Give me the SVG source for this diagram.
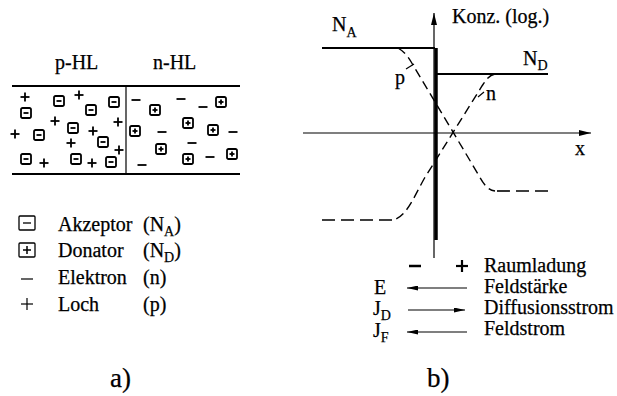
<svg xmlns="http://www.w3.org/2000/svg" xmlns:xlink="http://www.w3.org/1999/xlink" width="617" height="396" viewBox="0 0 617 396">
<style>
text{font-family:"Liberation Serif","Times New Roman",serif;font-size:20px;fill:#000;stroke:#000;stroke-width:0.25}
.sub{font-size:14px}
.big{font-size:27px}
.ln{stroke:#000;fill:none}
.thin{stroke:#000;stroke-width:1.2;fill:none}
.bold{stroke:#000;stroke-width:2;fill:none}
.dash{stroke:#000;stroke-width:1.4;fill:none;stroke-dasharray:9 5}
.dashf{stroke:#000;stroke-width:1.6;fill:none;stroke-dasharray:13 6}
.sym{stroke:#000;stroke-width:1.8;fill:none}
</style>
<defs>
<g id="acc"><rect x="-5" y="-5" width="10" height="10" rx="1.5" class="sym"/><line x1="-2.5" y1="0" x2="2.5" y2="0" class="sym"/></g>
<g id="don"><rect x="-5" y="-5" width="10" height="10" rx="1.5" class="sym"/><line x1="-2.5" y1="0" x2="2.5" y2="0" class="sym"/><line x1="0" y1="-2.5" x2="0" y2="2.5" class="sym"/></g>
<g id="hole"><line x1="-4.5" y1="0" x2="4.5" y2="0" class="sym"/><line x1="0" y1="-4.5" x2="0" y2="4.5" class="sym"/></g>
<g id="elec"><line x1="-4.5" y1="0" x2="4.5" y2="0" class="sym"/></g>
<marker id="ah" viewBox="0 0 12 6" refX="12" refY="3" markerWidth="12" markerHeight="6" markerUnits="userSpaceOnUse" orient="auto"><path d="M0,0 L12,3 L0,6 z" fill="#000"/></marker>
<marker id="ah2" viewBox="0 0 11 5" refX="11" refY="2.5" markerWidth="11" markerHeight="5" markerUnits="userSpaceOnUse" orient="auto"><path d="M0,0 L11,2.5 L0,5 z" fill="#000"/></marker>
</defs>

<!-- a) semiconductor -->
<g id="crystal">
<text x="55" y="69">p-HL</text>
<text x="153" y="69">n-HL</text>
<line x1="12" y1="86" x2="240" y2="86" class="bold"/>
<line x1="12" y1="174" x2="240" y2="174" class="bold"/>
<line x1="126" y1="86" x2="126" y2="174" class="thin"/>
</g>
<g id="acceptors">
<use href="#acc" x="59" y="101"/><use href="#acc" x="91" y="110"/><use href="#acc" x="114" y="102"/>
<use href="#acc" x="26" y="113"/><use href="#acc" x="73" y="128"/><use href="#acc" x="39" y="135"/>
<use href="#acc" x="103" y="142"/><use href="#acc" x="26" y="159"/><use href="#acc" x="76" y="159"/>
<use href="#acc" x="111" y="162"/>
</g>
<g id="holes">
<use href="#hole" x="25" y="97"/><use href="#hole" x="79" y="95"/><use href="#hole" x="55" y="121"/>
<use href="#hole" x="118" y="122"/><use href="#hole" x="15" y="134"/><use href="#hole" x="93" y="131"/>
<use href="#hole" x="71" y="143"/><use href="#hole" x="119" y="150"/><use href="#hole" x="44" y="163"/>
<use href="#hole" x="92" y="163"/>
</g>
<g id="donors">
<use href="#don" x="155" y="110"/><use href="#don" x="221" y="102"/><use href="#don" x="135" y="131"/>
<use href="#don" x="188" y="123"/><use href="#don" x="213" y="130"/><use href="#don" x="161" y="149"/>
<use href="#don" x="188" y="159"/><use href="#don" x="232" y="154"/>
</g>
<g id="electrons">
<use href="#elec" x="136" y="100"/><use href="#elec" x="181" y="99"/><use href="#elec" x="203" y="107"/>
<use href="#elec" x="162" y="132"/><use href="#elec" x="233" y="132"/><use href="#elec" x="192" y="143"/>
<use href="#elec" x="142" y="165"/><use href="#elec" x="210" y="157"/>
</g>

<!-- legend -->
<g id="legend">
<rect x="19" y="216" width="16" height="14" rx="1" class="ln" stroke-width="1.3"/>
<line x1="23" y1="223" x2="31" y2="223" class="ln" stroke-width="1.3"/>
<rect x="19" y="243" width="16" height="14" rx="1" class="ln" stroke-width="1.3"/>
<line x1="23" y1="250" x2="31" y2="250" class="ln" stroke-width="1.5"/>
<line x1="27" y1="246" x2="27" y2="254" class="ln" stroke-width="1.5"/>
<line x1="21" y1="279" x2="33" y2="279" class="ln" stroke-width="1.2"/>
<line x1="21" y1="304" x2="33" y2="304" class="ln" stroke-width="1.2"/>
<line x1="27" y1="298" x2="27" y2="310" class="ln" stroke-width="1.2"/>
<text x="58" y="231">Akzeptor</text>
<text x="58" y="257">Donator</text>
<text x="58" y="284">Elektron</text>
<text x="58" y="311">Loch</text>
<text x="143" y="231">(N<tspan class="sub" dy="5">A</tspan><tspan dy="-5">)</tspan></text>
<text x="143" y="257">(N<tspan class="sub" dy="5">D</tspan><tspan dy="-5">)</tspan></text>
<text x="143" y="284">(n)</text>
<text x="143" y="311">(p)</text>
</g>
<text class="big" x="110" y="387">a)</text>

<!-- b) concentration plot -->
<g id="axes">
<line x1="434" y1="258" x2="434" y2="13" class="thin" marker-end="url(#ah)"/>
<line x1="303" y1="133" x2="591" y2="133" class="thin" marker-end="url(#ah)"/>
<line x1="436" y1="48" x2="436" y2="240" class="ln" stroke-width="3.5"/>
<text x="452" y="23">Konz. (log.)</text>
<text x="575" y="155">x</text>
</g>
<g id="doping">
<line x1="322" y1="48" x2="435" y2="48" class="bold"/>
<line x1="436" y1="74" x2="548" y2="74" class="bold"/>
<text x="332" y="31">N<tspan class="sub" dy="6">A</tspan></text>
<text x="523" y="65">N<tspan class="sub" dy="5">D</tspan></text>
</g>
<g id="carriers">
<path d="M398,48 C405,52 409,58 413,65 L478,174 C484,185 488,190 495,191" class="dash"/>
<line x1="497" y1="191" x2="553" y2="191" class="dashf"/>
<path d="M495,74 C489,75 486,80 482,86 L424,179 C414,197 408,213 396,219" class="dash"/>
<line x1="322" y1="220" x2="394" y2="220" class="dashf"/>
<text x="395" y="84">p</text>
<line x1="406" y1="69" x2="414" y2="64" class="thin"/>
<text x="486" y="100">n</text>
<line x1="478" y1="97" x2="484" y2="92" class="thin"/>
</g>
<g id="fieldlegend">
<line x1="409" y1="266" x2="421" y2="266" class="ln" stroke-width="2.5"/>
<line x1="456" y1="266" x2="468" y2="266" class="ln" stroke-width="2.2"/>
<line x1="462" y1="260" x2="462" y2="272" class="ln" stroke-width="2.2"/>
<text x="484" y="272">Raumladung</text>
<text x="374" y="294">E</text>
<line x1="467" y1="288" x2="407" y2="288" class="thin" marker-end="url(#ah2)"/>
<text x="484" y="293">Feldstärke</text>
<text x="373" y="315">J<tspan class="sub" dy="5">D</tspan></text>
<line x1="408" y1="310" x2="465" y2="310" class="thin" marker-end="url(#ah2)"/>
<text x="484" y="314">Diffusionsstrom</text>
<text x="373" y="337">J<tspan class="sub" dy="5">F</tspan></text>
<line x1="467" y1="332" x2="407" y2="332" class="thin" marker-end="url(#ah2)"/>
<text x="484" y="335">Feldstrom</text>
</g>
<text class="big" x="427" y="387">b)</text>
</svg>
